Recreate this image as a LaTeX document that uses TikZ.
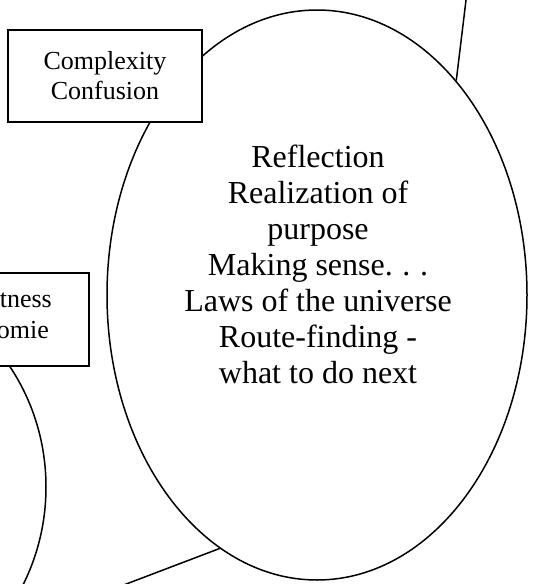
\documentclass[tikz,border=0pt]{standalone}
\usepackage{fontspec}
\setmainfont{Liberation Serif}
\usetikzlibrary{shapes.geometric}
\begin{document}
\begin{tikzpicture}[x=1pt,y=-1pt,
  bubble/.style={draw,ellipse,line width=1.5pt,inner sep=0pt},
  labelbox/.style={draw,fill=white,line width=1.5pt,inner sep=0pt,align=center,font=\fontsize{26}{30}\selectfont},
  boxtext/.style={anchor=base east,inner sep=0pt,font=\fontsize{26}{30}\selectfont},
  link/.style={line width=1.5pt},
  bigtext/.style={align=center,inner sep=0pt,font=\fontsize{32}{36}\selectfont\frenchspacing}]
\useasboundingbox (0,0) rectangle (537,584);
\clip (0,0) rectangle (537,584);
\node[bubble,minimum width=400pt,minimum height=420pt] (e2) at (-154,487) {};
\node[bubble,minimum width=420pt,minimum height=570pt] (e1) at (317,295) {};
\coordinate (ctop) at (467,-8);
\coordinate (cbot) at (100,594);
\draw[link] (e1.57.2) -- (ctop);
\draw[link] (e1.249.6) -- (cbot);
\node[labelbox,minimum width=194pt,minimum height=92pt] (b1) at (105,76) {Complexity\\Confusion};
\node[labelbox,minimum width=189pt,minimum height=93pt] (b2) at (-5.5,319.5) {};
\node[boxtext] (t2a) at (52,307) {tness};
\node[boxtext] (t2b) at (49,338) {omie};
\node[bigtext,anchor=base] (t1) at (318,383) {Reflection\\Realization of\\purpose\\Making sense.\hspace{0.3em}.\hspace{0.3em}.\\Laws of the universe\\Route-finding -\\what to do next};
\end{tikzpicture}
\end{document}
